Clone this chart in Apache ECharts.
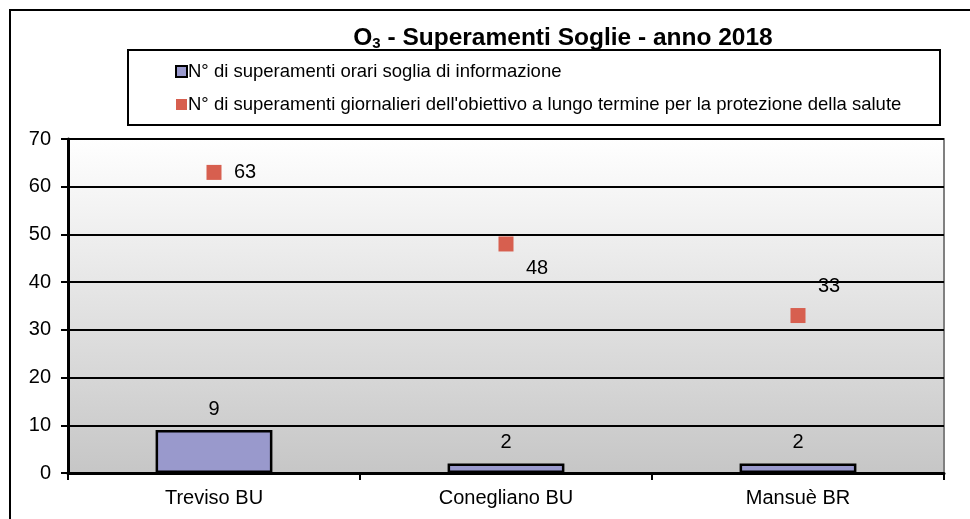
<!DOCTYPE html>
<html>
<head>
<meta charset="utf-8">
<script src="https://cdn.jsdelivr.net/npm/echarts@6/dist/echarts.min.js"></script>
<style>
  html, body { margin: 0; padding: 0; background: #fff; }
  #chart { width: 970px; height: 519px; }
</style>
</head>
<body>
<div id="chart"></div>
<script>
/* O3 - superamenti soglie 2018: barre (soglia informazione) + punti (obiettivo lungo termine) */

var stations   = ["Treviso BU", "Conegliano BU", "Mansuè BR"];
var infoHours  = [9, 2, 2];          // N° superamenti orari soglia di informazione
var longTerm   = [63, 48, 33];       // N° superamenti giornalieri obiettivo lungo termine
var yTicks     = [0, 70, 10];        // min, max, interval

var nameBars   = "N° di superamenti orari soglia di informazione";
var nameDots   = "N° di superamenti giornalieri dell'obiettivo a lungo termine per la protezione della salute";

var FONT = "Liberation Sans, Arial, sans-serif";

// etichette dei punti spostate come nell'originale
var dotLabelOffsets = [[31, 0], [31, 25], [31, -29]];

var chart = echarts.init(document.getElementById("chart"), null, { renderer: "canvas" });

chart.setOption({
  animation: false,
  backgroundColor: "#fff",
  textStyle: { fontFamily: FONT },
  title: {
    text: "{b|O}{s|3}{b| - Superamenti Soglie - anno 2018}",
    left: 558, top: 20, textAlign: "center",
    textStyle: {
      rich: {
        b: { fontSize: 24.5, fontWeight: "bold", color: "#000", fontFamily: FONT },
        s: { fontSize: 15, fontWeight: "bold", color: "#000", fontFamily: FONT, padding: [11, 0, 0, 0] }
      }
    }
  },
  legend: {
    orient: "vertical",
    left: 170, top: 57,
    itemGap: 14,
    itemWidth: 11, itemHeight: 11,
    textStyle: { fontSize: 18.5, color: "#000", fontFamily: FONT, padding: [0, 0, 0, -4] },
    data: [
      { name: nameBars, icon: "rect" },
      { name: nameDots, icon: "rect" }
    ]
  },
  graphic: [
    { type: "rect", shape: { x: 10, y: 10, width: 980, height: 530 },
      style: { fill: null, stroke: "#000", lineWidth: 2 }, z: 100 },
    { type: "rect", shape: { x: 128, y: 50, width: 812, height: 75 },
      style: { fill: null, stroke: "#000", lineWidth: 2 }, z: 100 }
  ],
  grid: {
    left: 68, right: 26, top: 139, bottom: 46,
    show: true,
    borderColor: "#808080", borderWidth: 2,
    backgroundColor: {
      type: "linear", x: 0, y: 0, x2: 0, y2: 1,
      colorStops: [{ offset: 0, color: "#ffffff" }, { offset: 1, color: "#c6c6c6" }]
    }
  },
  xAxis: {
    type: "category",
    data: stations,
    axisLine: { lineStyle: { color: "#000", width: 3 } },
    axisTick: { show: true, alignWithLabel: false, length: 7, lineStyle: { color: "#000", width: 2 } },
    axisLabel: { fontSize: 20, color: "#000", margin: 15, fontFamily: FONT },
    splitLine: { show: false }
  },
  yAxis: {
    type: "value",
    min: yTicks[0], max: yTicks[1], interval: yTicks[2],
    axisLine: { show: true, lineStyle: { color: "#000", width: 3 } },
    axisTick: { show: true, inside: false, length: 7, lineStyle: { color: "#000", width: 2 } },
    axisLabel: { fontSize: 20, color: "#000", margin: 17, fontFamily: FONT },
    splitLine: { show: true, lineStyle: { color: "#000", width: 2 } }
  },
  series: [
    {
      name: nameBars,
      type: "bar",
      data: infoHours,
      barWidth: "40%",
      itemStyle: { color: "#9999cc", borderColor: "#000", borderWidth: 2.5 },
      label: { show: true, position: "top", distance: 11, fontSize: 20, color: "#000", fontFamily: FONT },
      z: 3
    },
    {
      name: nameDots,
      type: "scatter",
      symbol: "rect",
      symbolSize: 15,
      itemStyle: { color: "#d75f4f", opacity: 1 },
      data: longTerm.map(function (v, i) {
        return {
          value: v,
          label: { offset: dotLabelOffsets[i] }
        };
      }),
      label: { show: true, position: "inside", fontSize: 20, color: "#000", fontFamily: FONT },
      z: 4
    }
  ]
});
</script>
</body>
</html>
